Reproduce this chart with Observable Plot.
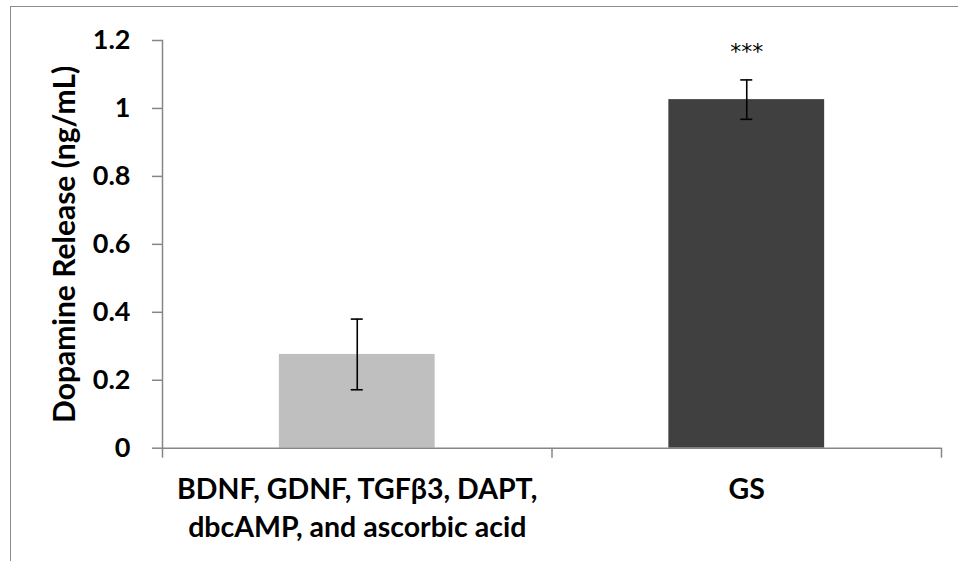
<!DOCTYPE html>
<html>
<head>
<meta charset="utf-8">
<script src="https://cdn.jsdelivr.net/npm/d3@7"></script>
<script src="https://cdn.jsdelivr.net/npm/@observablehq/plot@0.6"></script>
<style>
  html, body { margin: 0; padding: 0; background: #fff; }
  #wrap { position: relative; width: 958px; height: 561px; overflow: hidden; }
  #border { position: absolute; left: 10px; top: 6px; width: 1000px; height: 1000px; border: 1.5px solid #8c8c8c; box-sizing: border-box; }
  #chart { position: absolute; left: 0; top: 0; }
  #chart svg { font-family: Lato, "Open Sans", sans-serif; }
</style>
</head>
<body>
<div id="wrap">
  <div id="border"></div>
  <div id="chart"></div>
</div>
<script>
const categories = ["BDNF, GDNF, TGFβ3, DAPT,\ndbcAMP, and ascorbic acid", "GS"];
const means = [0.276, 1.026];
const errors = [0.104, 0.058];
const significance = ["", "***"];
const barColors = ["#bfbfbf", "#404040"];
const yTicks = [0, 0.2, 0.4, 0.6, 0.8, 1, 1.2];
const yLabel = "Dopamine Release (ng/mL)";

const data = categories.map((c, i) => ({
  cat: c, mean: means[i], err: errors[i], sig: significance[i], color: barColors[i]
}));

const W = 958, H = 561;
const mL = 162, mR = 17, mT = 40, mB = 113.3;
const pInner = 0.6, pOuter = 0.3;
const step = (W - mL - mR) / (categories.length - pInner + 2 * pOuter);
const plotH = H - mT - mB;
const axisGray = "#868686";
const capInset = (step * (1 - pInner) - 12) / 2;

const plot = Plot.plot({
  width: W,
  height: H,
  marginLeft: mL,
  marginRight: mR,
  marginTop: mT,
  marginBottom: mB,
  style: { fontFamily: "Lato, 'Open Sans', sans-serif", background: "transparent" },
  x: { domain: categories, paddingInner: pInner, paddingOuter: pOuter, axis: null, round: false },
  y: { domain: [0, 1.2], axis: null },
  marks: [
    Plot.barY(data, { x: "cat", y: "mean", fill: "color" }),
    // y axis line
    Plot.frame({ anchor: "left", stroke: axisGray, strokeWidth: 1.5 }),
    // x axis baseline
    Plot.ruleY([0], { stroke: axisGray, strokeWidth: 1.5 }),
    // y ticks
    Plot.tickY(yTicks, { y: d => d, stroke: axisGray, strokeWidth: 1.5, insetLeft: -10, insetRight: W - mL - mR }),
    Plot.text(yTicks, { y: d => d, text: d => String(d), frameAnchor: "left", textAnchor: "end", dx: -32, fontSize: 27, fontWeight: "bold", fill: "black" }),
    // x category boundary ticks
    Plot.ruleX(categories, { x: d => d, dx: -step / 2, stroke: axisGray, strokeWidth: 1.5, insetTop: plotH, insetBottom: -10 }),
    Plot.ruleX(categories.slice(-1), { x: d => d, dx: step / 2, stroke: axisGray, strokeWidth: 1.5, insetTop: plotH, insetBottom: -10 }),
    // error bars
    Plot.ruleX(data, { x: "cat", y1: d => d.mean - d.err, y2: d => d.mean + d.err, stroke: "black", strokeWidth: 1.6 }),
    Plot.tickY(data, { x: "cat", y: d => d.mean + d.err, stroke: "black", strokeWidth: 1.6, insetLeft: capInset, insetRight: capInset }),
    Plot.tickY(data, { x: "cat", y: d => d.mean - d.err, stroke: "black", strokeWidth: 1.6, insetLeft: capInset, insetRight: capInset }),
    // significance
    Plot.text(data, { x: "cat", y: d => d.mean + d.err, text: "sig", dy: -28, fontSize: 22, fontFamily: "DejaVu Sans", fill: "black", letterSpacing: "2px" }),
    // category labels
    Plot.text(data, { x: "cat", y: 0, text: "cat", dy: 23, lineAnchor: "top", lineHeight: 1.35, fontSize: 28.5, fontWeight: "bold", fill: "black" }),
    // y axis title
    Plot.text([yLabel], { frameAnchor: "left", textAnchor: "middle", rotate: -90, dx: -97, fontSize: 30, fontWeight: "bold", fill: "black" })
  ]
});
document.getElementById("chart").appendChild(plot);
</script>
</body>
</html>
